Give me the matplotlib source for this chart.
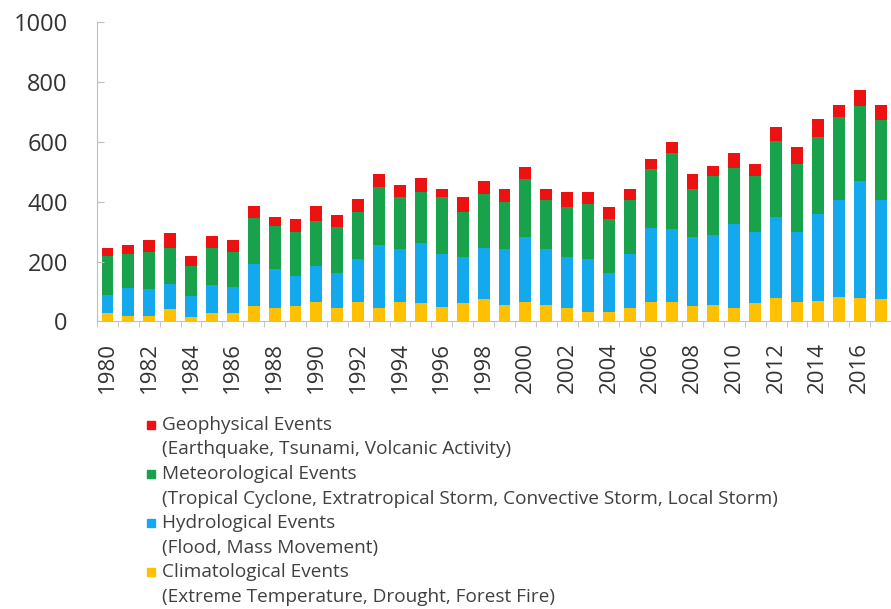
import numpy as np
import matplotlib
matplotlib.use('Agg')
import matplotlib.pyplot as plt
from matplotlib.patches import Rectangle

plt.rcParams['font.family'] = ['Open Sans', 'DejaVu Sans']

# Данные: число событий по годам
years = list(range(1980, 2018))
climatological = [29, 18, 18, 41, 16, 27, 27, 52, 44, 52, 66, 44, 66, 44, 66, 61, 49, 61, 75,
                  55, 66, 55, 44, 33, 33, 46, 64, 64, 52, 55, 46, 63, 79, 66, 68, 83, 79, 74]
hydrological = [59, 93, 89, 84, 69, 95, 89, 139, 130, 100, 119, 119, 141, 211, 175, 202, 178, 155, 172,
                186, 217, 186, 172, 174, 130, 178, 247, 244, 231, 233, 281, 236, 270, 233, 290, 322, 389, 333]
meteorological = [130, 116, 126, 121, 100, 124, 117, 153, 144, 147, 151, 151, 159, 194, 173, 168, 187, 150, 180,
                  158, 192, 166, 167, 185, 178, 183, 197, 255, 161, 197, 187, 186, 254, 228, 258, 278, 251, 265]
geophysical = [29, 28, 39, 48, 33, 39, 39, 41, 31, 43, 49, 41, 42, 43, 41, 48, 30, 48, 41,
               45, 41, 37, 50, 41, 42, 37, 36, 36, 47, 34, 49, 42, 46, 54, 59, 41, 53, 52]

series = [climatological, hydrological, meteorological, geophysical]
colors = ['#FFC000', '#14A9EC', '#17A24B', '#EE1111']
titles = ['Geophysical Events', 'Meteorological Events', 'Hydrological Events', 'Climatological Events']
subtitles = ['(Earthquake, Tsunami, Volcanic Activity)',
             '(Tropical Cyclone, Extratropical Storm, Convective Storm, Local Storm)',
             '(Flood, Mass Movement)',
             '(Extreme Temperature, Drought, Forest Fire)']

fig = plt.figure(figsize=(8.91, 6.09), dpi=100)
ax = fig.add_axes([0.1089, 0.4721, 0.8911, 0.4918])

bottom = np.zeros(len(years))
for vals, c in zip(series, colors):
    ax.bar(years, vals, width=0.57, bottom=bottom, color=c, linewidth=0)
    bottom += np.array(vals)

ax.set_ylim(0, 1000)
ax.set_xlim(1980 - 0.45, 2017.18)
ax.set_yticks(range(0, 1001, 200))
ax.set_xticks(years[::2])
ax.set_xticklabels([str(y) for y in years[::2]], rotation=90)
ax.set_xticks(np.arange(1979.5, 2018, 1), minor=True)

for s in ['top', 'right']:
    ax.spines[s].set_visible(False)
for s in ['left', 'bottom']:
    ax.spines[s].set_color('#BFBFBF')

ax.tick_params(axis='y', labelsize=17, colors='#BFBFBF', labelcolor='#333333',
               direction='in', length=5, pad=21)
ax.tick_params(axis='x', which='major', labelsize=16, labelcolor='#333333', length=0, pad=15)
ax.tick_params(axis='x', which='minor', colors='#BFBFBF', length=4)

# Легенда вручную: квадратик + две строки текста
W, H = 891, 609
y0 = 425
step = 24.5
for i, (t, sub, c) in enumerate(zip(titles, subtitles, colors[::-1])):
    y1 = y0 + 2 * i * step
    y2 = y1 + step
    fig.patches.append(Rectangle((147 / W, 1 - (y1 + 4) / H), 8 / W, 8 / H,
                                 transform=fig.transFigure, color=c))
    fig.text(162 / W, 1 - y1 / H, t, fontsize=13.7, color='#404040', va='center')
    fig.text(162 / W, 1 - y2 / H, sub, fontsize=13.7, color='#404040', va='center')

plt.savefig('out.png', dpi=100)
